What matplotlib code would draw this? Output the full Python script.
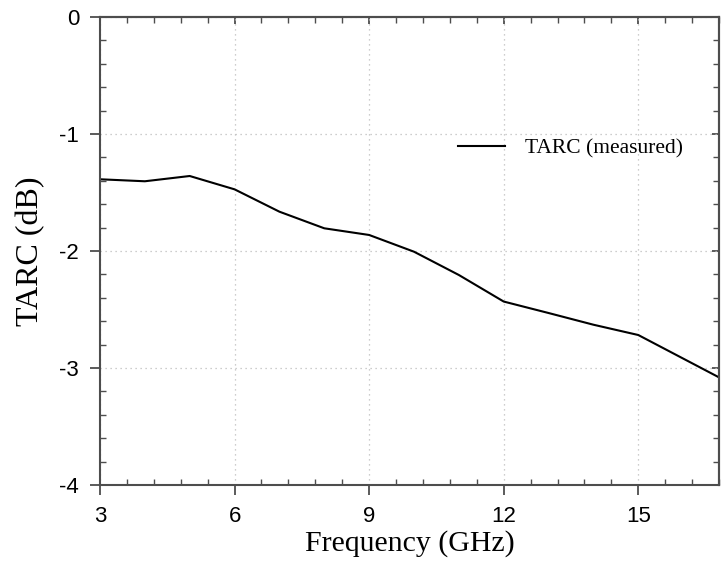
import matplotlib
matplotlib.use("Agg")
import matplotlib.pyplot as plt
import matplotlib.ticker as ticker

plt.rcParams["axes.unicode_minus"] = False

# measured TARC
freq_ghz = [3, 4, 5, 6, 7, 8, 9, 10, 11, 12, 13, 14, 15, 16.8]
tarc_db = [-1.387, -1.404, -1.359, -1.473, -1.664, -1.806, -1.863,
           -2.006, -2.205, -2.432, -2.53, -2.63, -2.718, -3.08]

x_ticks = [3, 6, 9, 12, 15]
y_ticks = [0, -1, -2, -3, -4]

spine_color = "#4d4d4d"
sans = "Liberation Sans"
serif = "Liberation Serif"

fig = plt.figure(figsize=(7.22, 5.66), dpi=100)
ax = fig.add_axes([100 / 722, 1 - 485 / 566, 619 / 722, 468 / 566])

ax.plot(freq_ghz, tarc_db, color="black", linewidth=1.5, label="TARC (measured)")

ax.set_xlim(3, 16.8)
ax.set_ylim(-4, 0)
ax.set_xticks(x_ticks)
ax.set_yticks(y_ticks)
ax.xaxis.set_minor_locator(ticker.MultipleLocator(0.6))
ax.yaxis.set_minor_locator(ticker.MultipleLocator(0.2))

# grid
ax.grid(True, which="major", color="#bdbdbd", linestyle=(0, (1, 3)), linewidth=0.9)

# bottom/left: major out, minor in
ax.tick_params(which="major", direction="out", length=7, width=1.3,
               color=spine_color, labelsize=16, pad=8)
ax.tick_params(which="minor", direction="in", length=4.5, width=1.0,
               color=spine_color)
for lbl in ax.get_xticklabels() + ax.get_yticklabels():
    lbl.set_fontfamily(sans)

for sp in ax.spines.values():
    sp.set_color(spine_color)
    sp.set_linewidth(1.5)

# top/right: all ticks inward, no labels
top = ax.secondary_xaxis("top")
top.set_xticks(x_ticks)
top.xaxis.set_minor_locator(ticker.MultipleLocator(0.6))
top.tick_params(which="both", direction="in", labeltop=False, color=spine_color)
top.tick_params(which="major", length=5, width=1.3)
top.tick_params(which="minor", length=4.5, width=1.0)
top.spines["top"].set_color(spine_color)
top.spines["top"].set_linewidth(1.5)

right = ax.secondary_yaxis("right")
right.set_yticks(y_ticks)
right.yaxis.set_minor_locator(ticker.MultipleLocator(0.2))
right.tick_params(which="both", direction="in", labelright=False, color=spine_color)
right.tick_params(which="major", length=5, width=1.3)
right.tick_params(which="minor", length=4.5, width=1.0)
right.spines["right"].set_color(spine_color)
right.spines["right"].set_linewidth(1.5)

ax.set_xlabel("Frequency (GHz)", fontfamily=serif, fontsize=21.5, labelpad=2)
ax.set_ylabel("TARC (dB)", fontfamily=serif, fontsize=23, labelpad=10)

ax.legend(loc="center left", bbox_to_anchor=(0.578, 0.72), frameon=False,
          borderpad=0, borderaxespad=0, handlelength=2.2, handletextpad=0.9,
          prop={"family": serif, "size": 15.5})

fig.savefig("out.png", dpi=100)
